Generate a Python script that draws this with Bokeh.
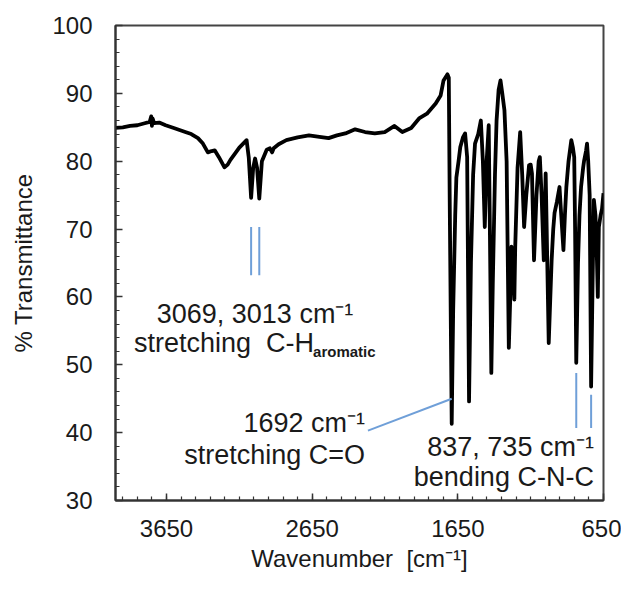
from bokeh.plotting import figure
from bokeh.models import Range1d, FixedTicker
from bokeh.core.properties import value
from bokeh.embed import file_html
from bokeh.resources import INLINE

# FT-IR spectrum
wavenumber = [4000, 3950, 3900, 3850, 3800, 3765, 3755, 3750, 3745, 3735, 3700, 3656, 3600,
              3521, 3480, 3434, 3400, 3366, 3340, 3319, 3290, 3252, 3230, 3211, 3150, 3100,
              3085, 3069, 3055, 3042, 3028, 3013, 2995, 2962, 2940, 2925, 2914, 2880, 2827,
              2750, 2672, 2600, 2537, 2480, 2422, 2355, 2287, 2220, 2152, 2085, 2031, 1970,
              1916, 1862, 1802, 1768, 1748, 1721, 1712, 1706, 1692, 1682, 1668, 1660, 1645,
              1633, 1615, 1600, 1586, 1573, 1560, 1545, 1532, 1510, 1492, 1478, 1465, 1452,
              1438, 1430, 1420, 1410, 1395, 1384, 1370, 1357, 1345, 1330, 1315, 1300, 1290,
              1282, 1270, 1262, 1256, 1240, 1222, 1208, 1195, 1180, 1161, 1150, 1141, 1127,
              1110, 1095, 1087, 1075, 1060, 1047, 1040, 1026, 1015, 1006, 995, 986, 970, 952,
              940, 925, 915, 905, 890, 871, 860, 851, 845, 837, 825, 815, 804, 790, 783, 770,
              763, 755, 745, 735, 725, 716, 705, 695, 689, 682, 670, 660, 650]
transmittance = [84.9, 85.0, 85.2, 85.3, 85.6, 85.8, 86.6, 85.2, 86.3, 85.6, 85.7, 85.3, 84.9,
                 84.3, 84.0, 83.4, 82.6, 81.3, 81.5, 81.6, 80.6, 79.1, 79.5, 80.2, 82.0, 83.1,
                 80.5, 74.6, 79.0, 80.4, 79.0, 74.5, 80.0, 81.7, 81.9, 81.3, 81.9, 82.5, 83.1,
                 83.5, 83.8, 83.6, 83.4, 83.8, 84.1, 84.7, 84.3, 84.1, 84.3, 85.2, 84.3, 84.9,
                 86.3, 87.0, 88.5, 89.7, 91.9, 92.8, 92.3, 75.0, 41.3, 58.0, 72.0, 77.6, 80.0,
                 82.1, 83.5, 84.1, 80.6, 44.6, 65.0, 78.0, 82.6, 84.0, 86.0, 80.0, 70.3, 80.0,
                 85.3, 70.0, 48.8, 62.0, 78.0, 86.0, 90.5, 91.9, 90.0, 87.5, 80.0, 52.5, 60.0,
                 67.4, 64.0, 59.6, 67.4, 79.0, 84.3, 78.0, 70.3, 75.0, 79.4, 79.5, 78.2, 65.4,
                 75.0, 80.0, 80.6, 75.0, 65.4, 78.2, 70.0, 53.2, 60.0, 65.4, 70.0, 72.4, 74.0, 76.2,
                 72.0, 66.9, 72.0, 76.2, 80.0, 83.1, 82.0, 80.6, 70.0, 50.3, 65.0, 72.0, 76.2, 79.0, 80.1, 81.5,
                 82.6, 80.0, 75.0, 46.8, 62.0, 74.3, 72.0, 65.4, 60.0, 70.3, 72.0, 73.0, 75.3]

x_ticks = [3650, 2650, 1650, 650]
x_minor = list(range(650, 4001, 100))
y_ticks = [30, 40, 50, 60, 70, 80, 90, 100]
y_minor = list(range(30, 101, 2))

# annotated bands
ch_bands = [3069, 3013]
co_band = [1692]
cnc_bands = [837, 735]

FONT = "Liberation Sans"
BLUE = "#6f9fd8"

p = figure(width=621, height=574, x_range=Range1d(4000, 650), y_range=Range1d(30, 100),
           output_backend="svg", toolbar_location=None,
           min_border_left=115, min_border_right=18, min_border_top=25, min_border_bottom=74,
           background_fill_color="white", border_fill_color="white")
p.grid.visible = False
p.outline_line_color = "#444444"
p.outline_line_width = 2

p.xaxis.ticker = FixedTicker(ticks=x_ticks, minor_ticks=x_minor)
p.yaxis.ticker = FixedTicker(ticks=y_ticks, minor_ticks=y_minor)
for ax in (p.xaxis[0], p.yaxis[0]):
    ax.axis_line_color = "#333333"
    ax.axis_line_width = 2
    ax.major_tick_in = 7
    ax.major_tick_out = 0
    ax.minor_tick_in = 4
    ax.minor_tick_out = 0
    ax.major_tick_line_color = "#333333"
    ax.minor_tick_line_color = "#333333"
    ax.major_tick_line_width = 1.5
    ax.minor_tick_line_width = 1.2
    ax.major_label_text_font = FONT
    ax.major_label_text_font_size = "24px"
    ax.major_label_text_color = "#1a1a1a"
    ax.axis_label_text_font = FONT
    ax.axis_label_text_font_size = "24px"
    ax.axis_label_text_font_style = "normal"
    ax.axis_label_text_color = "#1a1a1a"

p.xaxis.axis_label = "Wavenumber\u00a0 [cm\u207b\u00b9]"
p.yaxis.axis_label = "% Transmittance"
p.xaxis.major_label_standoff = 19
p.xaxis.axis_label_standoff = 5
p.yaxis.major_label_standoff = 23
p.yaxis.axis_label_standoff = 12

# spectrum
p.line(wavenumber, transmittance, line_color="black", line_width=3.8, line_join="round")

# leader lines
p.segment(x0=ch_bands, y0=[70.3, 70.3], x1=ch_bands, y1=[63.2, 63.2], line_color=BLUE, line_width=2)
p.segment(x0=co_band, y0=[45.0], x1=[2267], y1=[40.3], line_color=BLUE, line_width=2)
p.segment(x0=cnc_bands, y0=[48.8, 45.6], x1=cnc_bands, y1=[40.7, 40.7], line_color=BLUE, line_width=2)

common = dict(text_font=value(FONT), text_font_size="27px", text_color="#1a1a1a", text_baseline="middle")
# C-H aromatic
p.text(x=[3042], y=[57.5], text=["3069, 3013 cm\u207b\u00b9"], text_align="center", **common)
p.text(x=[3042], y=[53.2], text=["stretching\u00a0 C-H"], text_align="right", x_offset=59, **common)
p.text(x=[3042], y=[51.9], text=["aromatic"], text_align="left", x_offset=58,
       text_font=value(FONT), text_font_size="15px", text_font_style="bold",
       text_color="#1a1a1a", text_baseline="middle")
# C=O
p.text(x=[2287, 2287], y=[41.4, 36.7], text=["1692 cm\u207b\u00b9", "stretching C=O"], text_align="right", **common)
# C-N-C
p.text(x=[716, 716], y=[37.9, 33.4], text=["837, 735 cm\u207b\u00b9", "bending C-N-C"], text_align="right", **common)

open("out.html", "w").write(file_html(p, INLINE))
